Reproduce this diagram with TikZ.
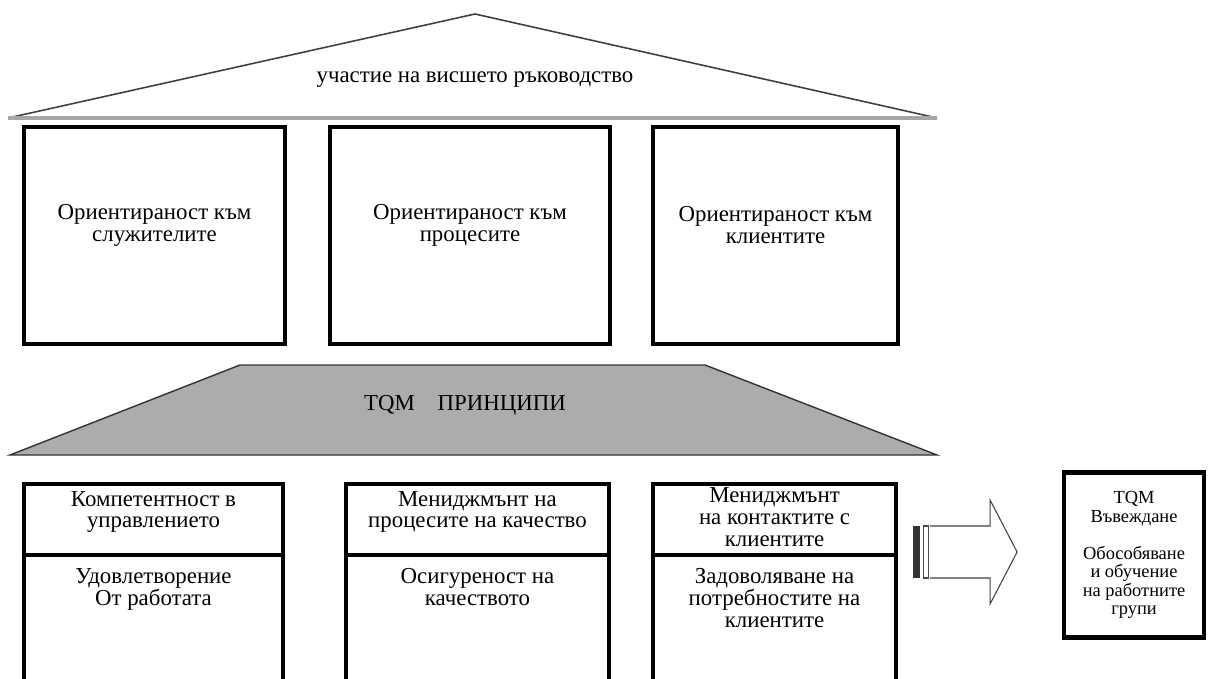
\documentclass[tikz,border=0pt]{standalone}
\usepackage{fontspec}
\setmainfont{Liberation Serif}
\usetikzlibrary{positioning,calc}

\tikzset{
  pillar/.style={draw, line width=2.4pt, minimum height=4.34cm},
  column/.style={draw, line width=2.4pt, minimum height=4.4cm},
  cell/.style={align=center, inner sep=1pt, font=\fontsize{13}{12.5}\selectfont},
}

\begin{document}
\begin{tikzpicture}[x=0.02cm, y=-0.02cm]
\useasboundingbox (0,0) rectangle (1217,679);
\clip (0,0) rectangle (1217,679);

% roof
\draw[gray!50!black, line width=0.9pt] (8,118) -- (475,14) -- (937,118);
\draw[gray!70, line width=2.2pt] (8,118) -- (937,118);
\node[cell] (roof) at (475,80) {участие на висшето ръководство};

% upper pillars
\node[pillar, minimum width=5.22cm] (emp) at (154.5,235.5) {};
\node[pillar, minimum width=5.6cm] (proc) at (470,235.5) {};
\node[pillar, minimum width=4.9cm] (cust) at (775.5,235.5) {};
\node[cell] (emp-text) at ([yshift=0.2cm]emp.center) {Ориентираност към\\служителите};
\node[cell] (proc-text) at ([yshift=0.2cm]proc.center) {Ориентираност към\\процесите};
\node[cell] (cust-text) at ([yshift=0.2cm]cust.center) {Ориентираност към\\клиентите};

% tqm principles
\draw[fill=gray!65, draw=gray!40!black, line width=0.8pt] (240,365) -- (705,365) -- (937,455) -- (10,455) -- cycle;
\node[cell] (tqm) at (465,405) {TQM\quad ПРИНЦИПИ};

% lower columns
\node[column, minimum width=5.18cm] (comp) at (153.5,594) {};
\node[column, minimum width=5.26cm] (qual) at (477.5,594) {};
\node[column, minimum width=4.86cm] (cont) at (774.5,594) {};
\foreach \c in {comp,qual,cont}{
  \coordinate (\c-div) at (\c.center |- 0,555);
  \draw[line width=2.4pt] (\c.west |- \c-div) -- (\c.east |- \c-div);
}

\node[cell, below=4pt of comp.north] (comp-top) {Компетентност в\\управлението};
\node[cell, below=6.5pt of comp-div] (comp-bot) {Удовлетворение\\От работата};
\node[cell, below=4pt of qual.north] (qual-top) {Мениджмънт на\\процесите на качество};
\node[cell, below=6.5pt of qual-div] (qual-bot) {Осигуреност на\\качеството};
\node[cell, below=2pt of cont.north] (cont-top) {Мениджмънт\\на контактите с\\клиентите};
\node[cell, below=6.5pt of cont-div] (cont-bot) {Задоволяване на\\потребностите на\\клиентите};

% tqm introduction
\node[draw, line width=2.4pt, minimum width=2.8cm, minimum height=3.3cm, align=center,
  font=\fontsize{10.5}{10.5}\selectfont] (intro) at (1134,555)
  {TQM\\Въвеждане\\[10.5pt]Обособяване\\и обучение\\на работните\\групи};

% striped arrow
\coordinate (tail) at ([xshift=0.3cm]cont.east |- 0,552);
\fill[gray!40!black] (tail) ++(0,-26) rectangle ++(7,52);
\draw[gray!60!black, line width=0.6pt] (tail) ++(10,-26) rectangle ++(5,52);
\draw[gray!50!black, line width=0.6pt] (tail) ++(17,-26) -- ++(60,0) -- ++(0,-26)
  -- ++(27,52) -- ++(-27,52) -- ++(0,-26) -- ++(-60,0);
\end{tikzpicture}
\end{document}
